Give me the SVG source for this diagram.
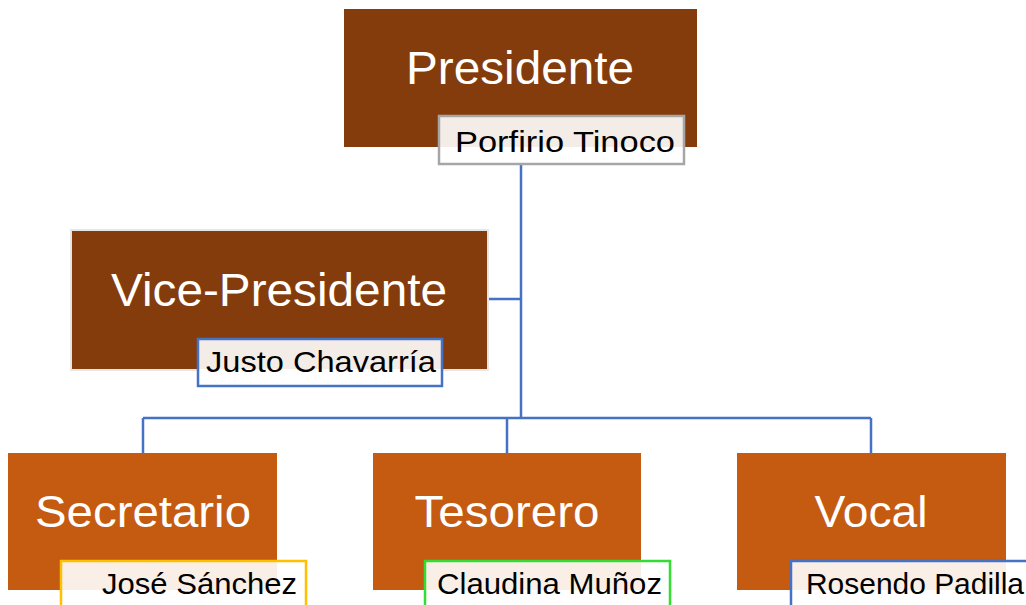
<svg xmlns="http://www.w3.org/2000/svg" width="1026" height="605" viewBox="0 0 1026 605">
<style>
.title{font-family:"Liberation Sans",Arial,sans-serif;fill:#fff;text-anchor:middle}
.name{font-family:"Liberation Sans",Arial,sans-serif;fill:#000;font-size:30px}
.lbl{fill:#fff;fill-opacity:0.9;stroke-width:2.5}
.conn{fill:none;stroke:#4472C4;stroke-width:2.5}
</style>
<rect width="1026" height="605" fill="#fff"/>
<g id="connectors">
<path class="conn" d="M521 164V418M487 299H521M143 418H871M143 418V453M507 418V453M871 418V453"/>
</g>
<g id="presidente">
<rect x="344" y="9" width="353" height="138" fill="#843C0C"/>
<text class="title" x="520" y="84" font-size="46" textLength="228" lengthAdjust="spacingAndGlyphs">Presidente</text>
<rect class="lbl" x="439" y="116" width="245" height="48" stroke="#A6A6A6"/>
<text class="name" x="455" y="152" textLength="220" lengthAdjust="spacingAndGlyphs">Porfirio Tinoco</text>
</g>
<g id="vicepresidente">
<rect x="71" y="230" width="417" height="140" fill="none" stroke="#E6E6E6" stroke-width="2"/>
<rect x="72" y="231" width="415" height="138" fill="#843C0C"/>
<text class="title" x="279" y="306" font-size="46" textLength="336" lengthAdjust="spacingAndGlyphs">Vice-Presidente</text>
<rect class="lbl" x="198" y="339" width="244" height="47" stroke="#4472C4"/>
<text class="name" x="206" y="372" textLength="230" lengthAdjust="spacingAndGlyphs">Justo Chavarría</text>
</g>
<g id="secretario">
<rect x="8" y="453" width="269" height="137" fill="#C55A11"/>
<text class="title" x="143" y="527" font-size="44" textLength="216" lengthAdjust="spacingAndGlyphs">Secretario</text>
<rect class="lbl" x="61" y="561" width="245" height="50" stroke="#FFC000"/>
<text class="name" x="102" y="594" textLength="195" lengthAdjust="spacingAndGlyphs">José Sánchez</text>
</g>
<g id="tesorero">
<rect x="373" y="453" width="268" height="137" fill="#C55A11"/>
<text class="title" x="507" y="527" font-size="44" textLength="185" lengthAdjust="spacingAndGlyphs">Tesorero</text>
<rect class="lbl" x="425" y="561" width="245" height="50" stroke="#33DD33"/>
<text class="name" x="437" y="594" textLength="225" lengthAdjust="spacingAndGlyphs">Claudina Muñoz</text>
</g>
<g id="vocal">
<rect x="737" y="453" width="269" height="137" fill="#C55A11"/>
<text class="title" x="871" y="527" font-size="44" textLength="113" lengthAdjust="spacingAndGlyphs">Vocal</text>
<rect class="lbl" x="791" y="561" width="245" height="50" stroke="#4472C4"/>
<text class="name" x="806" y="594" textLength="218" lengthAdjust="spacingAndGlyphs">Rosendo Padilla</text>
</g>
</svg>
